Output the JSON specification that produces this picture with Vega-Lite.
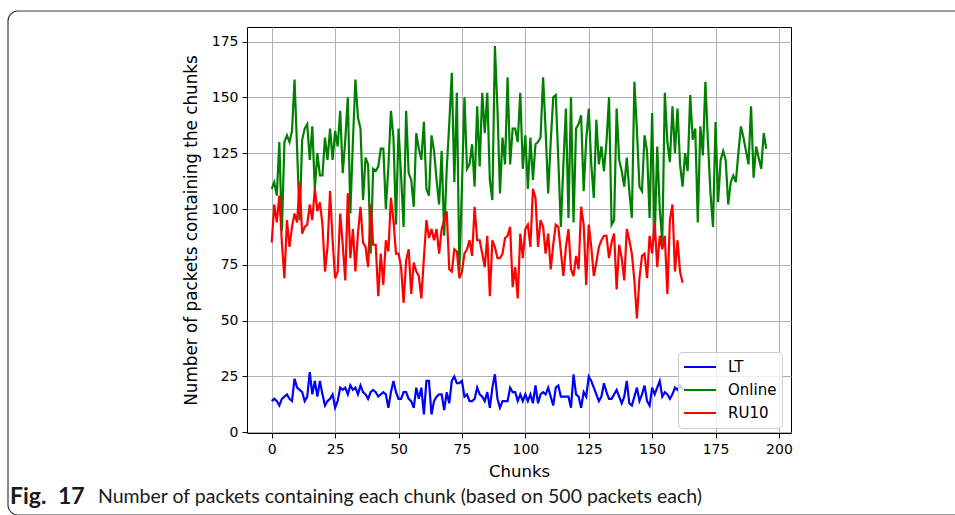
{
  "$schema": "https://vega.github.io/schema/vega-lite/v6.json",
  "width": 544,
  "height": 406,
  "autosize": {"type": "none"},
  "padding": {"left": 247, "top": 27, "right": 164, "bottom": 82},
  "background": "white",
  "config": {
    "view": {"stroke": "black", "strokeWidth": 1},
    "font": "DejaVu Sans"
  },
  "datasets": {
    "packets": [
      {"chunk":0,"series":"LT","count":14},{"chunk":1,"series":"LT","count":15},{"chunk":2,"series":"LT","count":14},{"chunk":3,"series":"LT","count":12},{"chunk":4,"series":"LT","count":15},{"chunk":5,"series":"LT","count":16},{"chunk":6,"series":"LT","count":17},{"chunk":7,"series":"LT","count":15},{"chunk":8,"series":"LT","count":14},{"chunk":9,"series":"LT","count":24},
      {"chunk":10,"series":"LT","count":20},{"chunk":11,"series":"LT","count":19},{"chunk":12,"series":"LT","count":18},{"chunk":13,"series":"LT","count":14},{"chunk":14,"series":"LT","count":16},{"chunk":15,"series":"LT","count":27},{"chunk":16,"series":"LT","count":17},{"chunk":17,"series":"LT","count":23},{"chunk":18,"series":"LT","count":16},{"chunk":19,"series":"LT","count":23},
      {"chunk":20,"series":"LT","count":17},{"chunk":21,"series":"LT","count":12},{"chunk":22,"series":"LT","count":14},{"chunk":23,"series":"LT","count":15},{"chunk":24,"series":"LT","count":17},{"chunk":25,"series":"LT","count":11},{"chunk":26,"series":"LT","count":14},{"chunk":27,"series":"LT","count":20},{"chunk":28,"series":"LT","count":19},{"chunk":29,"series":"LT","count":20},
      {"chunk":30,"series":"LT","count":17},{"chunk":31,"series":"LT","count":21},{"chunk":32,"series":"LT","count":19},{"chunk":33,"series":"LT","count":20},{"chunk":34,"series":"LT","count":17},{"chunk":35,"series":"LT","count":21},{"chunk":36,"series":"LT","count":18},{"chunk":37,"series":"LT","count":17},{"chunk":38,"series":"LT","count":15},{"chunk":39,"series":"LT","count":18},
      {"chunk":40,"series":"LT","count":19},{"chunk":41,"series":"LT","count":18},{"chunk":42,"series":"LT","count":16},{"chunk":43,"series":"LT","count":17},{"chunk":44,"series":"LT","count":18},{"chunk":45,"series":"LT","count":17},{"chunk":46,"series":"LT","count":11},{"chunk":47,"series":"LT","count":18},{"chunk":48,"series":"LT","count":23},{"chunk":49,"series":"LT","count":18},
      {"chunk":50,"series":"LT","count":15},{"chunk":51,"series":"LT","count":15},{"chunk":52,"series":"LT","count":18},{"chunk":53,"series":"LT","count":18},{"chunk":54,"series":"LT","count":15},{"chunk":55,"series":"LT","count":14},{"chunk":56,"series":"LT","count":11},{"chunk":57,"series":"LT","count":20},{"chunk":58,"series":"LT","count":15},{"chunk":59,"series":"LT","count":20},
      {"chunk":60,"series":"LT","count":8},{"chunk":61,"series":"LT","count":23},{"chunk":62,"series":"LT","count":23},{"chunk":63,"series":"LT","count":8},{"chunk":64,"series":"LT","count":14},{"chunk":65,"series":"LT","count":16},{"chunk":66,"series":"LT","count":17},{"chunk":67,"series":"LT","count":17},{"chunk":68,"series":"LT","count":10},{"chunk":69,"series":"LT","count":18},
      {"chunk":70,"series":"LT","count":13},{"chunk":71,"series":"LT","count":23},{"chunk":72,"series":"LT","count":25},{"chunk":73,"series":"LT","count":22},{"chunk":74,"series":"LT","count":22},{"chunk":75,"series":"LT","count":23},{"chunk":76,"series":"LT","count":16},{"chunk":77,"series":"LT","count":17},{"chunk":78,"series":"LT","count":14},{"chunk":79,"series":"LT","count":14},
      {"chunk":80,"series":"LT","count":15},{"chunk":81,"series":"LT","count":20},{"chunk":82,"series":"LT","count":17},{"chunk":83,"series":"LT","count":16},{"chunk":84,"series":"LT","count":14},{"chunk":85,"series":"LT","count":18},{"chunk":86,"series":"LT","count":11},{"chunk":87,"series":"LT","count":20},{"chunk":88,"series":"LT","count":26},{"chunk":89,"series":"LT","count":15},
      {"chunk":90,"series":"LT","count":11},{"chunk":91,"series":"LT","count":14},{"chunk":92,"series":"LT","count":14},{"chunk":93,"series":"LT","count":14},{"chunk":94,"series":"LT","count":20},{"chunk":95,"series":"LT","count":18},{"chunk":96,"series":"LT","count":18},{"chunk":97,"series":"LT","count":14},{"chunk":98,"series":"LT","count":17},{"chunk":99,"series":"LT","count":14},
      {"chunk":100,"series":"LT","count":17},{"chunk":101,"series":"LT","count":14},{"chunk":102,"series":"LT","count":17},{"chunk":103,"series":"LT","count":13},{"chunk":104,"series":"LT","count":21},{"chunk":105,"series":"LT","count":13},{"chunk":106,"series":"LT","count":17},{"chunk":107,"series":"LT","count":18},{"chunk":108,"series":"LT","count":17},{"chunk":109,"series":"LT","count":20},
      {"chunk":110,"series":"LT","count":16},{"chunk":111,"series":"LT","count":12},{"chunk":112,"series":"LT","count":20},{"chunk":113,"series":"LT","count":21},{"chunk":114,"series":"LT","count":16},{"chunk":115,"series":"LT","count":16},{"chunk":116,"series":"LT","count":16},{"chunk":117,"series":"LT","count":16},{"chunk":118,"series":"LT","count":11},{"chunk":119,"series":"LT","count":26},
      {"chunk":120,"series":"LT","count":17},{"chunk":121,"series":"LT","count":16},{"chunk":122,"series":"LT","count":11},{"chunk":123,"series":"LT","count":18},{"chunk":124,"series":"LT","count":16},{"chunk":125,"series":"LT","count":25},{"chunk":126,"series":"LT","count":23},{"chunk":127,"series":"LT","count":20},{"chunk":128,"series":"LT","count":17},{"chunk":129,"series":"LT","count":14},
      {"chunk":130,"series":"LT","count":16},{"chunk":131,"series":"LT","count":22},{"chunk":132,"series":"LT","count":18},{"chunk":133,"series":"LT","count":15},{"chunk":134,"series":"LT","count":15},{"chunk":135,"series":"LT","count":17},{"chunk":136,"series":"LT","count":19},{"chunk":137,"series":"LT","count":16},{"chunk":138,"series":"LT","count":13},{"chunk":139,"series":"LT","count":16},
      {"chunk":140,"series":"LT","count":23},{"chunk":141,"series":"LT","count":13},{"chunk":142,"series":"LT","count":12},{"chunk":143,"series":"LT","count":16},{"chunk":144,"series":"LT","count":20},{"chunk":145,"series":"LT","count":14},{"chunk":146,"series":"LT","count":17},{"chunk":147,"series":"LT","count":21},{"chunk":148,"series":"LT","count":14},{"chunk":149,"series":"LT","count":12},
      {"chunk":150,"series":"LT","count":20},{"chunk":151,"series":"LT","count":17},{"chunk":152,"series":"LT","count":20},{"chunk":153,"series":"LT","count":23},{"chunk":154,"series":"LT","count":16},{"chunk":155,"series":"LT","count":18},{"chunk":156,"series":"LT","count":17},{"chunk":157,"series":"LT","count":15},{"chunk":158,"series":"LT","count":17},{"chunk":159,"series":"LT","count":20},
      {"chunk":160,"series":"LT","count":19},{"chunk":161,"series":"LT","count":21},{"chunk":162,"series":"LT","count":19},

      {"chunk":0,"series":"Online","count":109},{"chunk":1,"series":"Online","count":112},{"chunk":2,"series":"Online","count":106},{"chunk":3,"series":"Online","count":130},{"chunk":4,"series":"Online","count":90},{"chunk":5,"series":"Online","count":130},{"chunk":6,"series":"Online","count":133},{"chunk":7,"series":"Online","count":130},{"chunk":8,"series":"Online","count":135},{"chunk":9,"series":"Online","count":158},
      {"chunk":10,"series":"Online","count":127},{"chunk":11,"series":"Online","count":95},{"chunk":12,"series":"Online","count":131},{"chunk":13,"series":"Online","count":136},{"chunk":14,"series":"Online","count":138},{"chunk":15,"series":"Online","count":122},{"chunk":16,"series":"Online","count":137},{"chunk":17,"series":"Online","count":109},{"chunk":18,"series":"Online","count":125},{"chunk":19,"series":"Online","count":115},
      {"chunk":20,"series":"Online","count":115},{"chunk":21,"series":"Online","count":132},{"chunk":22,"series":"Online","count":122},{"chunk":23,"series":"Online","count":136},{"chunk":24,"series":"Online","count":122},{"chunk":25,"series":"Online","count":135},{"chunk":26,"series":"Online","count":128},{"chunk":27,"series":"Online","count":144},{"chunk":28,"series":"Online","count":116},{"chunk":29,"series":"Online","count":131},
      {"chunk":30,"series":"Online","count":150},{"chunk":31,"series":"Online","count":98},{"chunk":32,"series":"Online","count":130},{"chunk":33,"series":"Online","count":158},{"chunk":34,"series":"Online","count":141},{"chunk":35,"series":"Online","count":136},{"chunk":36,"series":"Online","count":104},{"chunk":37,"series":"Online","count":123},{"chunk":38,"series":"Online","count":120},{"chunk":39,"series":"Online","count":80},
      {"chunk":40,"series":"Online","count":118},{"chunk":41,"series":"Online","count":117},{"chunk":42,"series":"Online","count":119},{"chunk":43,"series":"Online","count":127},{"chunk":44,"series":"Online","count":127},{"chunk":45,"series":"Online","count":100},{"chunk":46,"series":"Online","count":119},{"chunk":47,"series":"Online","count":144},{"chunk":48,"series":"Online","count":132},{"chunk":49,"series":"Online","count":93},
      {"chunk":50,"series":"Online","count":136},{"chunk":51,"series":"Online","count":115},{"chunk":52,"series":"Online","count":92},{"chunk":53,"series":"Online","count":144},{"chunk":54,"series":"Online","count":116},{"chunk":55,"series":"Online","count":113},{"chunk":56,"series":"Online","count":101},{"chunk":57,"series":"Online","count":134},{"chunk":58,"series":"Online","count":127},{"chunk":59,"series":"Online","count":122},
      {"chunk":60,"series":"Online","count":139},{"chunk":61,"series":"Online","count":109},{"chunk":62,"series":"Online","count":106},{"chunk":63,"series":"Online","count":133},{"chunk":64,"series":"Online","count":126},{"chunk":65,"series":"Online","count":113},{"chunk":66,"series":"Online","count":102},{"chunk":67,"series":"Online","count":126},{"chunk":68,"series":"Online","count":88},{"chunk":69,"series":"Online","count":118},
      {"chunk":70,"series":"Online","count":138},{"chunk":71,"series":"Online","count":161},{"chunk":72,"series":"Online","count":112},{"chunk":73,"series":"Online","count":152},{"chunk":74,"series":"Online","count":72},{"chunk":75,"series":"Online","count":110},{"chunk":76,"series":"Online","count":150},{"chunk":77,"series":"Online","count":118},{"chunk":78,"series":"Online","count":120},{"chunk":79,"series":"Online","count":129},
      {"chunk":80,"series":"Online","count":110},{"chunk":81,"series":"Online","count":146},{"chunk":82,"series":"Online","count":119},{"chunk":83,"series":"Online","count":152},{"chunk":84,"series":"Online","count":134},{"chunk":85,"series":"Online","count":152},{"chunk":86,"series":"Online","count":113},{"chunk":87,"series":"Online","count":104},{"chunk":88,"series":"Online","count":173},{"chunk":89,"series":"Online","count":145},
      {"chunk":90,"series":"Online","count":107},{"chunk":91,"series":"Online","count":132},{"chunk":92,"series":"Online","count":120},{"chunk":93,"series":"Online","count":159},{"chunk":94,"series":"Online","count":120},{"chunk":95,"series":"Online","count":136},{"chunk":96,"series":"Online","count":136},{"chunk":97,"series":"Online","count":130},{"chunk":98,"series":"Online","count":152},{"chunk":99,"series":"Online","count":118},
      {"chunk":100,"series":"Online","count":133},{"chunk":101,"series":"Online","count":109},{"chunk":102,"series":"Online","count":132},{"chunk":103,"series":"Online","count":113},{"chunk":104,"series":"Online","count":129},{"chunk":105,"series":"Online","count":130},{"chunk":106,"series":"Online","count":132},{"chunk":107,"series":"Online","count":159},{"chunk":108,"series":"Online","count":135},{"chunk":109,"series":"Online","count":107},
      {"chunk":110,"series":"Online","count":130},{"chunk":111,"series":"Online","count":150},{"chunk":112,"series":"Online","count":151},{"chunk":113,"series":"Online","count":122},{"chunk":114,"series":"Online","count":92},{"chunk":115,"series":"Online","count":120},{"chunk":116,"series":"Online","count":145},{"chunk":117,"series":"Online","count":96},{"chunk":118,"series":"Online","count":150},{"chunk":119,"series":"Online","count":94},
      {"chunk":120,"series":"Online","count":136},{"chunk":121,"series":"Online","count":138},{"chunk":122,"series":"Online","count":142},{"chunk":123,"series":"Online","count":108},{"chunk":124,"series":"Online","count":131},{"chunk":125,"series":"Online","count":145},{"chunk":126,"series":"Online","count":120},{"chunk":127,"series":"Online","count":105},{"chunk":128,"series":"Online","count":140},{"chunk":129,"series":"Online","count":120},
      {"chunk":130,"series":"Online","count":128},{"chunk":131,"series":"Online","count":117},{"chunk":132,"series":"Online","count":130},{"chunk":133,"series":"Online","count":150},{"chunk":134,"series":"Online","count":93},{"chunk":135,"series":"Online","count":95},{"chunk":136,"series":"Online","count":145},{"chunk":137,"series":"Online","count":122},{"chunk":138,"series":"Online","count":117},{"chunk":139,"series":"Online","count":110},
      {"chunk":140,"series":"Online","count":123},{"chunk":141,"series":"Online","count":108},{"chunk":142,"series":"Online","count":96},{"chunk":143,"series":"Online","count":157},{"chunk":144,"series":"Online","count":135},{"chunk":145,"series":"Online","count":110},{"chunk":146,"series":"Online","count":108},{"chunk":147,"series":"Online","count":133},{"chunk":148,"series":"Online","count":126},{"chunk":149,"series":"Online","count":96},
      {"chunk":150,"series":"Online","count":143},{"chunk":151,"series":"Online","count":86},{"chunk":152,"series":"Online","count":128},{"chunk":153,"series":"Online","count":100},{"chunk":154,"series":"Online","count":85},{"chunk":155,"series":"Online","count":152},{"chunk":156,"series":"Online","count":130},{"chunk":157,"series":"Online","count":121},{"chunk":158,"series":"Online","count":146},{"chunk":159,"series":"Online","count":125},
      {"chunk":160,"series":"Online","count":145},{"chunk":161,"series":"Online","count":120},{"chunk":162,"series":"Online","count":110},{"chunk":163,"series":"Online","count":125},{"chunk":164,"series":"Online","count":117},{"chunk":165,"series":"Online","count":151},{"chunk":166,"series":"Online","count":131},{"chunk":167,"series":"Online","count":136},{"chunk":168,"series":"Online","count":94},{"chunk":169,"series":"Online","count":137},
      {"chunk":170,"series":"Online","count":124},{"chunk":171,"series":"Online","count":157},{"chunk":172,"series":"Online","count":130},{"chunk":173,"series":"Online","count":107},{"chunk":174,"series":"Online","count":92},{"chunk":175,"series":"Online","count":139},{"chunk":176,"series":"Online","count":103},{"chunk":177,"series":"Online","count":122},{"chunk":178,"series":"Online","count":126},{"chunk":179,"series":"Online","count":122},
      {"chunk":180,"series":"Online","count":102},{"chunk":181,"series":"Online","count":112},{"chunk":182,"series":"Online","count":115},{"chunk":183,"series":"Online","count":112},{"chunk":184,"series":"Online","count":125},{"chunk":185,"series":"Online","count":137},{"chunk":186,"series":"Online","count":132},{"chunk":187,"series":"Online","count":126},{"chunk":188,"series":"Online","count":120},{"chunk":189,"series":"Online","count":146},
      {"chunk":190,"series":"Online","count":114},{"chunk":191,"series":"Online","count":128},{"chunk":192,"series":"Online","count":123},{"chunk":193,"series":"Online","count":118},{"chunk":194,"series":"Online","count":134},{"chunk":195,"series":"Online","count":127},

      {"chunk":0,"series":"RU10","count":85},{"chunk":1,"series":"RU10","count":102},{"chunk":2,"series":"RU10","count":94},{"chunk":3,"series":"RU10","count":106},{"chunk":4,"series":"RU10","count":85},{"chunk":5,"series":"RU10","count":69},{"chunk":6,"series":"RU10","count":95},{"chunk":7,"series":"RU10","count":83},{"chunk":8,"series":"RU10","count":92},{"chunk":9,"series":"RU10","count":98},
      {"chunk":10,"series":"RU10","count":94},{"chunk":11,"series":"RU10","count":112},{"chunk":12,"series":"RU10","count":89},{"chunk":13,"series":"RU10","count":92},{"chunk":14,"series":"RU10","count":93},{"chunk":15,"series":"RU10","count":102},{"chunk":16,"series":"RU10","count":95},{"chunk":17,"series":"RU10","count":109},{"chunk":18,"series":"RU10","count":99},{"chunk":19,"series":"RU10","count":103},
      {"chunk":20,"series":"RU10","count":93},{"chunk":21,"series":"RU10","count":72},{"chunk":22,"series":"RU10","count":83},{"chunk":23,"series":"RU10","count":108},{"chunk":24,"series":"RU10","count":86},{"chunk":25,"series":"RU10","count":69},{"chunk":26,"series":"RU10","count":72},{"chunk":27,"series":"RU10","count":98},{"chunk":28,"series":"RU10","count":84},{"chunk":29,"series":"RU10","count":68},
      {"chunk":30,"series":"RU10","count":107},{"chunk":31,"series":"RU10","count":78},{"chunk":32,"series":"RU10","count":91},{"chunk":33,"series":"RU10","count":72},{"chunk":34,"series":"RU10","count":89},{"chunk":35,"series":"RU10","count":101},{"chunk":36,"series":"RU10","count":85},{"chunk":37,"series":"RU10","count":83},{"chunk":38,"series":"RU10","count":74},{"chunk":39,"series":"RU10","count":102},
      {"chunk":40,"series":"RU10","count":84},{"chunk":41,"series":"RU10","count":84},{"chunk":42,"series":"RU10","count":61},{"chunk":43,"series":"RU10","count":80},{"chunk":44,"series":"RU10","count":66},{"chunk":45,"series":"RU10","count":86},{"chunk":46,"series":"RU10","count":81},{"chunk":47,"series":"RU10","count":105},{"chunk":48,"series":"RU10","count":95},{"chunk":49,"series":"RU10","count":80},
      {"chunk":50,"series":"RU10","count":80},{"chunk":51,"series":"RU10","count":74},{"chunk":52,"series":"RU10","count":58},{"chunk":53,"series":"RU10","count":77},{"chunk":54,"series":"RU10","count":82},{"chunk":55,"series":"RU10","count":62},{"chunk":56,"series":"RU10","count":76},{"chunk":57,"series":"RU10","count":72},{"chunk":58,"series":"RU10","count":70},{"chunk":59,"series":"RU10","count":60},
      {"chunk":60,"series":"RU10","count":78},{"chunk":61,"series":"RU10","count":95},{"chunk":62,"series":"RU10","count":87},{"chunk":63,"series":"RU10","count":91},{"chunk":64,"series":"RU10","count":86},{"chunk":65,"series":"RU10","count":91},{"chunk":66,"series":"RU10","count":80},{"chunk":67,"series":"RU10","count":91},{"chunk":68,"series":"RU10","count":95},{"chunk":69,"series":"RU10","count":99},
      {"chunk":70,"series":"RU10","count":73},{"chunk":71,"series":"RU10","count":72},{"chunk":72,"series":"RU10","count":82},{"chunk":73,"series":"RU10","count":81},{"chunk":74,"series":"RU10","count":69},{"chunk":75,"series":"RU10","count":72},{"chunk":76,"series":"RU10","count":80},{"chunk":77,"series":"RU10","count":82},{"chunk":78,"series":"RU10","count":86},{"chunk":79,"series":"RU10","count":79},
      {"chunk":80,"series":"RU10","count":101},{"chunk":81,"series":"RU10","count":86},{"chunk":82,"series":"RU10","count":86},{"chunk":83,"series":"RU10","count":80},{"chunk":84,"series":"RU10","count":74},{"chunk":85,"series":"RU10","count":88},{"chunk":86,"series":"RU10","count":61},{"chunk":87,"series":"RU10","count":86},{"chunk":88,"series":"RU10","count":83},{"chunk":89,"series":"RU10","count":78},
      {"chunk":90,"series":"RU10","count":78},{"chunk":91,"series":"RU10","count":80},{"chunk":92,"series":"RU10","count":87},{"chunk":93,"series":"RU10","count":88},{"chunk":94,"series":"RU10","count":92},{"chunk":95,"series":"RU10","count":65},{"chunk":96,"series":"RU10","count":74},{"chunk":97,"series":"RU10","count":60},{"chunk":98,"series":"RU10","count":89},{"chunk":99,"series":"RU10","count":78},
      {"chunk":100,"series":"RU10","count":91},{"chunk":101,"series":"RU10","count":93},{"chunk":102,"series":"RU10","count":83},{"chunk":103,"series":"RU10","count":109},{"chunk":104,"series":"RU10","count":105},{"chunk":105,"series":"RU10","count":83},{"chunk":106,"series":"RU10","count":95},{"chunk":107,"series":"RU10","count":92},{"chunk":108,"series":"RU10","count":80},{"chunk":109,"series":"RU10","count":89},
      {"chunk":110,"series":"RU10","count":73},{"chunk":111,"series":"RU10","count":84},{"chunk":112,"series":"RU10","count":93},{"chunk":113,"series":"RU10","count":92},{"chunk":114,"series":"RU10","count":81},{"chunk":115,"series":"RU10","count":70},{"chunk":116,"series":"RU10","count":83},{"chunk":117,"series":"RU10","count":91},{"chunk":118,"series":"RU10","count":73},{"chunk":119,"series":"RU10","count":70},
      {"chunk":120,"series":"RU10","count":79},{"chunk":121,"series":"RU10","count":73},{"chunk":122,"series":"RU10","count":101},{"chunk":123,"series":"RU10","count":93},{"chunk":124,"series":"RU10","count":66},{"chunk":125,"series":"RU10","count":93},{"chunk":126,"series":"RU10","count":83},{"chunk":127,"series":"RU10","count":70},{"chunk":128,"series":"RU10","count":76},{"chunk":129,"series":"RU10","count":83},
      {"chunk":130,"series":"RU10","count":86},{"chunk":131,"series":"RU10","count":88},{"chunk":132,"series":"RU10","count":88},{"chunk":133,"series":"RU10","count":78},{"chunk":134,"series":"RU10","count":85},{"chunk":135,"series":"RU10","count":89},{"chunk":136,"series":"RU10","count":64},{"chunk":137,"series":"RU10","count":84},{"chunk":138,"series":"RU10","count":78},{"chunk":139,"series":"RU10","count":68},
      {"chunk":140,"series":"RU10","count":91},{"chunk":141,"series":"RU10","count":86},{"chunk":142,"series":"RU10","count":80},{"chunk":143,"series":"RU10","count":68},{"chunk":144,"series":"RU10","count":51},{"chunk":145,"series":"RU10","count":69},{"chunk":146,"series":"RU10","count":79},{"chunk":147,"series":"RU10","count":80},{"chunk":148,"series":"RU10","count":69},{"chunk":149,"series":"RU10","count":88},
      {"chunk":150,"series":"RU10","count":80},{"chunk":151,"series":"RU10","count":94},{"chunk":152,"series":"RU10","count":74},{"chunk":153,"series":"RU10","count":88},{"chunk":154,"series":"RU10","count":82},{"chunk":155,"series":"RU10","count":88},{"chunk":156,"series":"RU10","count":62},{"chunk":157,"series":"RU10","count":95},{"chunk":158,"series":"RU10","count":102},{"chunk":159,"series":"RU10","count":72},
      {"chunk":160,"series":"RU10","count":86},{"chunk":161,"series":"RU10","count":72},{"chunk":162,"series":"RU10","count":67}
    ]
  },
  "layer": [
    {
      "data": {"values": [{}]},
      "mark": {"type": "rect", "fill": null, "stroke": "#3a3a3a", "strokeWidth": 1.2, "cornerRadius": 10},
      "encoding": {
        "x": {"value": -239},
        "x2": {"value": 730},
        "y": {"value": -16},
        "y2": {"value": 488}
      }
    },
    {
      "data": {"values": [{"label": "Fig.\u200217"}]},
      "mark": {"type": "text", "align": "left", "baseline": "middle", "font": "Lato", "fontSize": 23, "fontWeight": "bold", "color": "#1a1a1a"},
      "encoding": {
        "x": {"value": -237},
        "y": {"value": 470},
        "text": {"field": "label"}
      }
    },
    {
      "data": {"values": [{"label": "Number of packets containing each chunk (based on 500 packets each)"}]},
      "mark": {"type": "text", "align": "left", "baseline": "middle", "font": "Lato", "fontSize": 19.5, "color": "#1a1a1a"},
      "encoding": {
        "x": {"value": -149},
        "y": {"value": 470},
        "text": {"field": "label"}
      }
    },
    {
      "data": {"name": "packets"},
      "mark": {"type": "line", "strokeWidth": 2.2, "clip": true},
      "encoding": {
        "x": {
          "field": "chunk",
          "type": "quantitative",
          "scale": {"domain": [-9.75, 204.75], "nice": false, "zero": false},
          "axis": {
            "title": "Chunks",
            "values": [0, 25, 50, 75, 100, 125, 150, 175, 200],
            "labelFont": "DejaVu Sans",
            "labelFontSize": 14,
            "labelColor": "black",
            "labelPadding": 4,
            "titleFont": "DejaVu Sans",
            "titleFontSize": 16.5,
            "titleFontWeight": "normal",
            "titleColor": "black",
            "titlePadding": 7,
            "tickColor": "black",
            "tickSize": 5,
            "domain": false,
            "grid": true,
            "gridColor": "#b0b0b0",
            "gridWidth": 1
          }
        },
        "y": {
          "field": "count",
          "type": "quantitative",
          "scale": {"domain": [-0.3, 181.5], "nice": false, "zero": false},
          "axis": {
            "title": "Number of packets containing the chunks",
            "values": [0, 25, 50, 75, 100, 125, 150, 175],
            "labelFont": "DejaVu Sans",
            "labelFontSize": 14,
            "labelColor": "black",
            "labelPadding": 4,
            "titleFont": "DejaVu Sans",
            "titleFontSize": 16.8,
            "titleFontWeight": "normal",
            "titleColor": "black",
            "titlePadding": 11,
            "tickColor": "black",
            "tickSize": 5,
            "domain": false,
            "grid": true,
            "gridColor": "#b0b0b0",
            "gridWidth": 1
          }
        },
        "color": {
          "field": "series",
          "type": "nominal",
          "scale": {"domain": ["LT", "Online", "RU10"], "range": ["#0000ff", "#008000", "#ff0000"]},
          "legend": {
            "title": null,
            "orient": "none",
            "legendX": 431,
            "legendY": 325,
            "symbolType": "stroke",
            "symbolSize": 1024,
            "symbolStrokeWidth": 2,
            "labelFont": "DejaVu Sans",
            "labelFontSize": 15,
            "labelColor": "black",
            "labelOffset": 11,
            "clipHeight": 20,
            "padding": 5,
            "rowPadding": 3,
            "fillColor": "rgba(255,255,255,0.8)",
            "strokeColor": "#cccccc",
            "cornerRadius": 4
          }
        }
      }
    }
  ]
}
